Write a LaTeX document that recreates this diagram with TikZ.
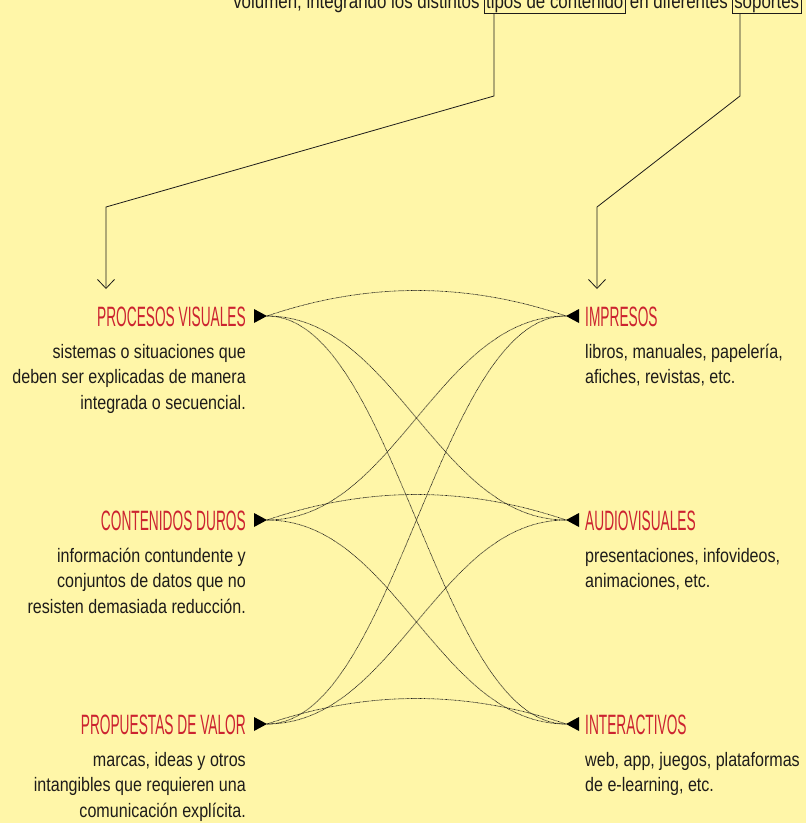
\documentclass[tikz,border=0pt]{standalone}
\usepackage{fontspec}
\setmainfont{Liberation Sans}
\newfontfamily\headfont[FakeStretch=0.49]{Liberation Sans}
\newfontfamily\bodyfont[FakeStretch=0.825]{Liberation Sans}
\usetikzlibrary{arrows.meta}

\definecolor{paper}{RGB}{255,246,168}
\definecolor{headred}{RGB}{204,35,48}
\definecolor{ink}{RGB}{30,28,26}

\tikzset{
  head/.style={font=\headfont\fontsize{28}{30}\selectfont, text=headred, inner sep=0pt},
  desc/.style={font=\bodyfont\fontsize{19.5}{25.5}\selectfont, text=ink, inner sep=0pt},
  lead/.style={font=\bodyfont\fontsize{20.5}{25}\selectfont, text=ink, inner sep=0pt},
  boxed/.style={lead, draw=ink, line width=0.7pt, inner xsep=2pt, inner ysep=1pt},
  link/.style={draw=ink, line width=0.7pt, dash pattern=on 0.7pt off 0.6pt},
  pointer/.style={draw=ink, line width=0.8pt, -{Straight Barb[length=9pt,width=17pt]}},
  marker/.style={fill=black}
}

\begin{document}
\begin{tikzpicture}[x=1pt,y=-1pt]
  \fill[paper] (0,0) rectangle (806,823);
  \useasboundingbox (0,0) rectangle (806,823);

  % lead sentence with the two framed terms
  \node[boxed, anchor=base east] (b2) at (801.5,8) {soportes};
  \node[lead, anchor=base east] (t2) at ([xshift=-4pt]b2.base west) {en diferentes};
  \node[boxed, anchor=base east] (b1) at ([xshift=-4pt]t2.base west) {tipos de contenido};
  \node[lead, anchor=base east] (t1) at ([xshift=-4pt]b1.base west) {volumen, integrando los distintos};

  % connection points of the three rows
  \coordinate (L1) at (267,316);
  \coordinate (L2) at (267,520);
  \coordinate (L3) at (267,724);
  \coordinate (R1) at (566,316);
  \coordinate (R2) at (566,520);
  \coordinate (R3) at (566,724);

  % left column
  \node[head, anchor=base east] (pv) at (246,326) {PROCESOS VISUALES};
  \node[desc, anchor=north east, align=right] (pvd) at (246,340.15)
    {\strut sistemas o situaciones que\\deben ser explicadas de manera\\integrada o secuencial.};
  \node[head, anchor=base east] (cd) at (246,530) {CONTENIDOS DUROS};
  \node[desc, anchor=north east, align=right] (cdd) at (246,544.15)
    {\strut información contundente y\\conjuntos de datos que no\\resisten demasiada reducción.};
  \node[head, anchor=base east] (pr) at (246,734) {PROPUESTAS DE VALOR};
  \node[desc, anchor=north east, align=right] (prd) at (246,748.15)
    {\strut marcas, ideas y otros\\intangibles que requieren una\\comunicación explícita.};

  % right column
  \node[head, anchor=base west] (im) at (585,326) {IMPRESOS};
  \node[desc, anchor=north west, align=left] (imd) at (585,340.15)
    {\strut libros, manuales, papelería,\\afiches, revistas, etc.};
  \node[head, anchor=base west] (av) at (585,530) {AUDIOVISUALES};
  \node[desc, anchor=north west, align=left] (avd) at (585,544.15)
    {\strut presentaciones, infovideos,\\animaciones, etc.};
  \node[head, anchor=base west] (ia) at (585,734) {INTERACTIVOS};
  \node[desc, anchor=north west, align=left] (iad) at (585,748.15)
    {\strut web, app, juegos, plataformas\\de e-learning, etc.};

  % triangular markers
  \foreach \p in {L1,L2,L3}
    \fill[marker] (\p) -- ++(-13,-7) -- ++(0,14) -- cycle;
  \foreach \p in {R1,R2,R3}
    \fill[marker] (\p) -- ++(13,-7) -- ++(0,14) -- cycle;

  % dotted links between every kind of content and every medium
  \foreach \a in {1,2,3}{
    \foreach \b in {1,2,3}{
      \ifnum\a=\b
        \draw[link] (L\a) .. controls +(100,-34) and +(-100,-34) .. (R\b);
      \else
        \draw[link] (L\a) .. controls +(128,0) and +(-128,0) .. (R\b);
      \fi
    }
  }

  % pointers from the framed terms down to the two columns
  \coordinate (k1a) at (494,96);
  \coordinate (k1b) at (106,207);
  \coordinate (pvin) at (106,289);
  \coordinate (k2a) at (740,96);
  \coordinate (k2b) at (597,207);
  \coordinate (imin) at (597,289);
  \draw[pointer] (k1a |- b1.south) -- (k1a) -- (k1b) -- (pvin);
  \draw[pointer] (k2a |- b2.south) -- (k2a) -- (k2b) -- (imin);
\end{tikzpicture}
\end{document}
